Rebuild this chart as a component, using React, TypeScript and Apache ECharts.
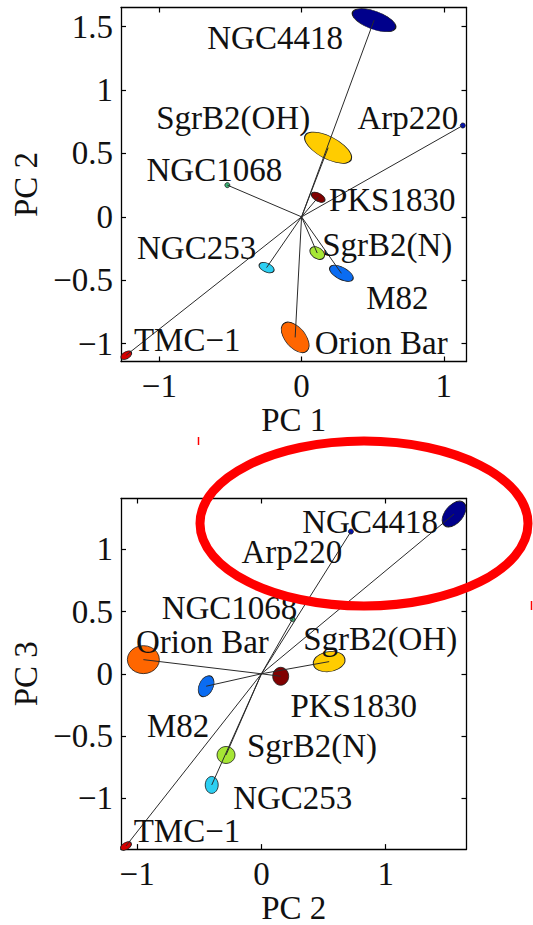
import React, { useEffect, useRef } from "react";
import * as echarts from "echarts";

// ---- data ----
const sources = ["NGC4418", "Arp220", "M82", "NGC253", "NGC1068", "SgrB2(N)", "SgrB2(OH)", "Orion Bar", "TMC\u22121", "PKS1830"];
const pc1 = [0.51, 1.134, 0.28, -0.246, -0.522, 0.11, 0.187, -0.045, -1.233, 0.117];
const pc2 = [1.55, 0.72, -0.445, -0.4, 0.25, -0.285, 0.545, -0.95, -1.09, 0.155];
const pc3 = [1.285, 1.144, -0.1, -0.894, 0.44, -0.653, 0.098, 0.114, -1.385, -0.02];
const sourceColors = ["#00008b", "#0010c0", "#0a6cf2", "#2ccff2", "#3cb878", "#a6e635", "#ffcc00", "#ff6600", "#d40000", "#800000"];

const pc1Ticks = [-1, 0, 1];
const pc2TicksTop = [-1, -0.5, 0, 0.5, 1, 1.5];
const pc2TicksBottom = [-1, 0, 1];
const pc3Ticks = [-1, -0.5, 0, 0.5, 1];

// ---- layout / style ----
const topBlobSize = [[46, 18], [5, 5], [26, 12], [16, 9], [5, 5], [16, 11], [52, 22], [36, 20], [12, 7], [15, 8]];
const topBlobRot = [-20, 0, -28, -25, 0, -35, -28, -50, 30, -30];
const topLabelOffset = [[-99, 18], [-55, -8], [56, 25], [-70, -20], [-13, -15], [70, -8], [-95, -30], [86, 6], [61, -15], [74, 3]];

const botBlobSize = [[30, 18], [5, 5], [14, 22], [13, 17], [5, 5], [18, 17], [32, 20], [32, 28], [12, 7], [16, 18]];
const botBlobRot = [50, 0, -25, 0, 0, 0, 10, 0, 30, 0];
const botLabelOffset = [[-84, 8], [-59, 20], [-28, 40], [81, 13], [-63, -11], [86, -9], [51, -23], [59, -18], [61, -15], [73, 30]];

const FONT = "Liberation Serif";
const FS = 33;
const TXT = "#111";
const minus = (v: number) => String(v).replace("-", "\u2212");

function axisCommon(min: number, max: number, ticks: number[], showLabel: boolean, gridIndex: number, position: string) {
  return {
    type: "value",
    gridIndex,
    position,
    min,
    max,
    axisLine: { show: true, onZero: false, lineStyle: { color: "#000", width: 1.3 } },
    axisTick: { show: true, inside: true, length: 5, customValues: ticks, lineStyle: { color: "#000", width: 1.2 } },
    axisLabel: {
      show: showLabel,
      customValues: ticks,
      formatter: minus,
      margin: 8,
      fontFamily: FONT,
      fontSize: FS,
      color: TXT,
    },
    splitLine: { show: false },
  } as any;
}

function plotSeries(xs: number[], ys: number[], sizes: number[][], rots: number[], offs: number[][], xi: number, yi: number) {
  return [
    {
      type: "scatter",
      xAxisIndex: xi,
      yAxisIndex: yi,
      clip: true,
      z: 2,
      data: xs.map((x, i) => ({
        value: [x, ys[i]],
        symbol: "circle",
        symbolSize: sizes[i],
        symbolRotate: rots[i],
        itemStyle: { color: sourceColors[i], opacity: 1, borderColor: "#1a1a1a", borderWidth: 0.8 },
      })),
      silent: true,
    },
    {
      type: "lines",
      coordinateSystem: "cartesian2d",
      xAxisIndex: xi,
      yAxisIndex: yi,
      z: 3,
      silent: true,
      lineStyle: { color: "#2a2a2a", width: 1, opacity: 1 },
      data: xs.map((x, i) => ({ coords: [[0, 0], [x, ys[i]]] })),
    },
    {
      type: "scatter",
      xAxisIndex: xi,
      yAxisIndex: yi,
      z: 4,
      silent: true,
      symbolSize: 1,
      itemStyle: { color: "rgba(0,0,0,0)", opacity: 1 },
      data: xs.map((x, i) => ({
        value: [x, ys[i]],
        label: {
          show: true,
          position: "inside",
          offset: offs[i],
          formatter: sources[i],
          fontFamily: FONT,
          fontSize: FS,
          lineHeight: 26,
          color: TXT,
          align: "center",
          verticalAlign: "middle",
        },
      })),
    },
  ];
}

export default function App() {
  const ref = useRef<HTMLDivElement>(null);
  useEffect(() => {
    if (!ref.current) return;
    const chart = echarts.init(ref.current, undefined, { renderer: "svg" });
    const nameStyle = { fontFamily: FONT, fontSize: FS, color: TXT };
    const xTopMain = { ...axisCommon(-1.27, 1.16, pc1Ticks, true, 0, "bottom"), name: "PC 1", nameLocation: "middle", nameGap: 40, nameTextStyle: nameStyle };
    const xTopSec = axisCommon(-1.27, 1.16, pc1Ticks, false, 0, "top");
    const xBotMain = { ...axisCommon(-1.13, 1.65, pc2TicksBottom, true, 1, "bottom"), name: "PC 2", nameLocation: "middle", nameGap: 40, nameTextStyle: nameStyle };
    const xBotSec = axisCommon(-1.13, 1.65, pc2TicksBottom, false, 1, "top");
    const yTopMain = { ...axisCommon(-1.14, 1.65, pc2TicksTop, true, 0, "left"), name: "PC 2", nameLocation: "middle", nameGap: 78, nameTextStyle: nameStyle };
    const yTopSec = axisCommon(-1.14, 1.65, pc2TicksTop, false, 0, "right");
    const yBotMain = { ...axisCommon(-1.41, 1.41, pc3Ticks, true, 1, "left"), name: "PC 3", nameLocation: "middle", nameGap: 78, nameTextStyle: nameStyle };
    const yBotSec = axisCommon(-1.41, 1.41, pc3Ticks, false, 1, "right");

    chart.setOption({
      animation: false,
      backgroundColor: "#fff",
      grid: [
        { left: 121, top: 7.5, width: 345.5, height: 354 },
        { left: 121, top: 498.5, width: 345.5, height: 353 },
      ],
      xAxis: [xTopMain, xTopSec, xBotMain, xBotSec],
      yAxis: [yTopMain, yTopSec, yBotMain, yBotSec],
      series: [
        ...plotSeries(pc1, pc2, topBlobSize, topBlobRot, topLabelOffset, 0, 0),
        ...plotSeries(pc2, pc3, botBlobSize, botBlobRot, botLabelOffset, 2, 2),
      ],
      graphic: [
        {
          type: "ellipse",
          shape: { cx: 364, cy: 523.5, rx: 164, ry: 82.5 },
          style: { fill: "none", stroke: "#ff0000", lineWidth: 9 },
          z: 100,
        },
        { type: "line", shape: { x1: 198.5, y1: 437, x2: 198.5, y2: 445 }, style: { stroke: "#ff0000", lineWidth: 1.5 }, z: 100 },
        { type: "line", shape: { x1: 531.5, y1: 601, x2: 531.5, y2: 610 }, style: { stroke: "#ff0000", lineWidth: 1.5 }, z: 100 },
      ],
    });
    return () => chart.dispose();
  }, []);
  return <div ref={ref} style={{ position: "fixed", left: 0, top: 0, width: 533, height: 925, background: "#fff" }} />;
}
